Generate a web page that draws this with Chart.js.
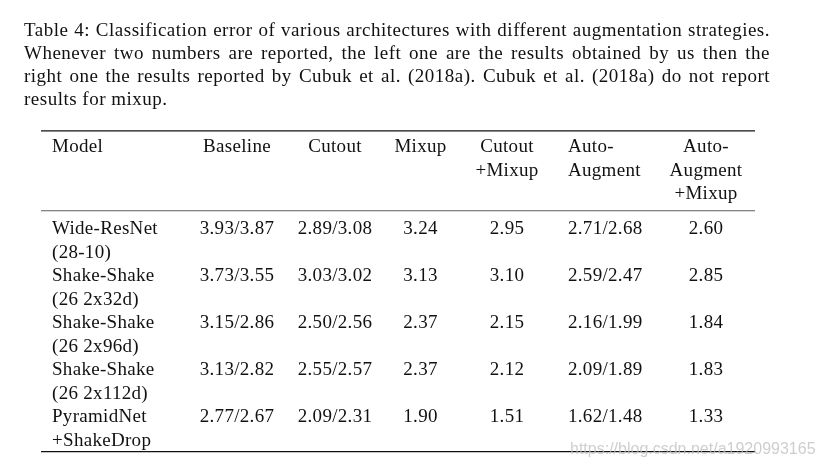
<!DOCTYPE html>
<html>
<head>
<meta charset="utf-8">
<script src="https://cdn.jsdelivr.net/npm/chart.js@4.4.0/dist/chart.umd.min.js"></script>
<style>
html, body { margin: 0; padding: 0; background: #fff; }
</style>
</head>
<body>
<canvas id="table" width="823" height="466"></canvas>
<script>
// caption, as broken in the paper
const captionLines = [
    'Table 4: Classification error of various architectures with different augmentation strategies.',
    'Whenever two numbers are reported, the left one are the results obtained by us then the',
    'right one the results reported by Cubuk et al. (2018a). Cubuk et al. (2018a) do not report',
    'results for mixup.'
];

const headers = [['Model'], ['Baseline'], ['Cutout'], ['Mixup'], ['Cutout', '+Mixup'], ['Auto-', 'Augment'], ['Auto-', 'Augment', '+Mixup']];
const models = [['Wide-ResNet', '(28-10)'], ['Shake-Shake', '(26 2x32d)'], ['Shake-Shake', '(26 2x96d)'], ['Shake-Shake', '(26 2x112d)'], ['PyramidNet', '+ShakeDrop']];

// ours / reported by Cubuk et al. (null = not reported)
const baselineOurs = [3.93, 3.73, 3.15, 3.13, 2.77];
const baselineCubuk = [3.87, 3.55, 2.86, 2.82, 2.67];
const cutoutOurs = [2.89, 3.03, 2.50, 2.55, 2.09];
const cutoutCubuk = [3.08, 3.02, 2.56, 2.57, 2.31];
const mixupOurs = [3.24, 3.13, 2.37, 2.37, 1.90];
const cutoutMixupOurs = [2.95, 3.10, 2.15, 2.12, 1.51];
const autoAugOurs = [2.71, 2.59, 2.16, 2.09, 1.62];
const autoAugCubuk = [2.68, 2.47, 1.99, 1.89, 1.48];
const autoAugMixupOurs = [2.60, 2.85, 1.84, 1.83, 1.33];

// table layout
const colWidths = [147, 98, 98, 73, 100, 100, 98];
const colAlign = ['left', 'center', 'center', 'center', 'center', 'left', 'center'];
const tabSep = 11;
const FONT = '19px "Liberation Serif", "Times New Roman", serif';

function fmt(a, b) {
    return b == null ? a.toFixed(2) : a.toFixed(2) + '/' + b.toFixed(2);
}

let colX = [];
let acc = 0;
for (let i = 0; i < colWidths.length; i++) {
    colX.push(colAlign[i] === 'left' ? acc + tabSep : acc + colWidths[i] / 2);
    acc += colWidths[i];
}

const columnCells = [
    models,
    baselineOurs.map((v, i) => [fmt(v, baselineCubuk[i])]),
    cutoutOurs.map((v, i) => [fmt(v, cutoutCubuk[i])]),
    mixupOurs.map(v => [fmt(v)]),
    cutoutMixupOurs.map(v => [fmt(v)]),
    autoAugOurs.map((v, i) => [fmt(v, autoAugCubuk[i])]),
    autoAugMixupOurs.map(v => [fmt(v)])
];

let datasets = [{
    label: 'header',
    data: headers.map((h, j) => ({ x: colX[j], y: 0, lines: h, align: colAlign[j] })),
    pointRadius: 0
}];
columnCells.forEach((cells, j) => {
    datasets.push({
        label: headers[j].join(' '),
        data: cells.map((c, i) => ({ x: colX[j], y: 3.5 + 2 * i, lines: c, align: colAlign[j] })),
        pointRadius: 0
    });
});

function drawJustified(ctx, text, x, y, width, justify) {
    if (!justify) { ctx.fillText(text, x, y); return; }
    const words = text.split(' ');
    const total = words.reduce((s, w) => s + ctx.measureText(w).width, 0);
    const gap = (width - total) / (words.length - 1);
    let cx = x;
    words.forEach(w => {
        ctx.fillText(w, cx, y);
        cx += ctx.measureText(w).width + gap;
    });
}

const tablePlugin = {
    id: 'tablePlugin',
    afterDatasetsDraw(chart) {
        const ctx = chart.ctx;
        const area = chart.chartArea;
        const ys = chart.scales.y;
        const step = ys.getPixelForValue(1) - ys.getPixelForValue(0);
        ctx.save();

        // caption
        ctx.fillStyle = '#111';
        ctx.font = FONT;
        ctx.letterSpacing = '0.5px';
        ctx.textAlign = 'left';
        ctx.textBaseline = 'alphabetic';
        captionLines.forEach((line, i) => {
            drawJustified(ctx, line, 24, 36 + 23 * i, 746, i < captionLines.length - 1);
        });

        // cells
        ctx.letterSpacing = '0.3px';
        chart.data.datasets.forEach((ds, d) => {
            const meta = chart.getDatasetMeta(d);
            meta.data.forEach((pt, i) => {
                const cell = ds.data[i];
                ctx.textAlign = cell.align;
                cell.lines.forEach((t, k) => ctx.fillText(t, pt.x, pt.y + k * step));
            });
        });
        ctx.letterSpacing = '0px';

        // booktabs rules
        const rules = [[-0.9, 1.3, '#111'], [2.5, 0.8, '#333'], [12.75, 1.3, '#111']];
        rules.forEach(([v, w, c]) => {
            const y = ys.getPixelForValue(v);
            ctx.strokeStyle = c;
            ctx.lineWidth = w;
            ctx.beginPath();
            ctx.moveTo(area.left, y);
            ctx.lineTo(area.right, y);
            ctx.stroke();
        });

        // watermark
        ctx.font = '16px "Liberation Sans", Arial, sans-serif';
        ctx.textAlign = 'left';
        ctx.fillStyle = 'rgba(190, 190, 190, 0.75)';
        ctx.fillText('https://blog.csdn.net/a1920993165', 570, 454);
        ctx.restore();
    }
};

new Chart(document.getElementById('table'), {
    type: 'scatter',
    data: { datasets: datasets },
    options: {
        responsive: false,
        animation: false,
        devicePixelRatio: 1,
        layout: { padding: { top: 128.5, bottom: 8.5, left: 41, right: 68 } },
        plugins: {
            legend: { display: false },
            tooltip: { enabled: false }
        },
        scales: {
            x: { type: 'linear', min: 0, max: 714, display: false },
            y: { type: 'linear', min: -1, max: 13, reverse: true, display: false }
        }
    },
    plugins: [tablePlugin]
});
</script>
</body>
</html>
